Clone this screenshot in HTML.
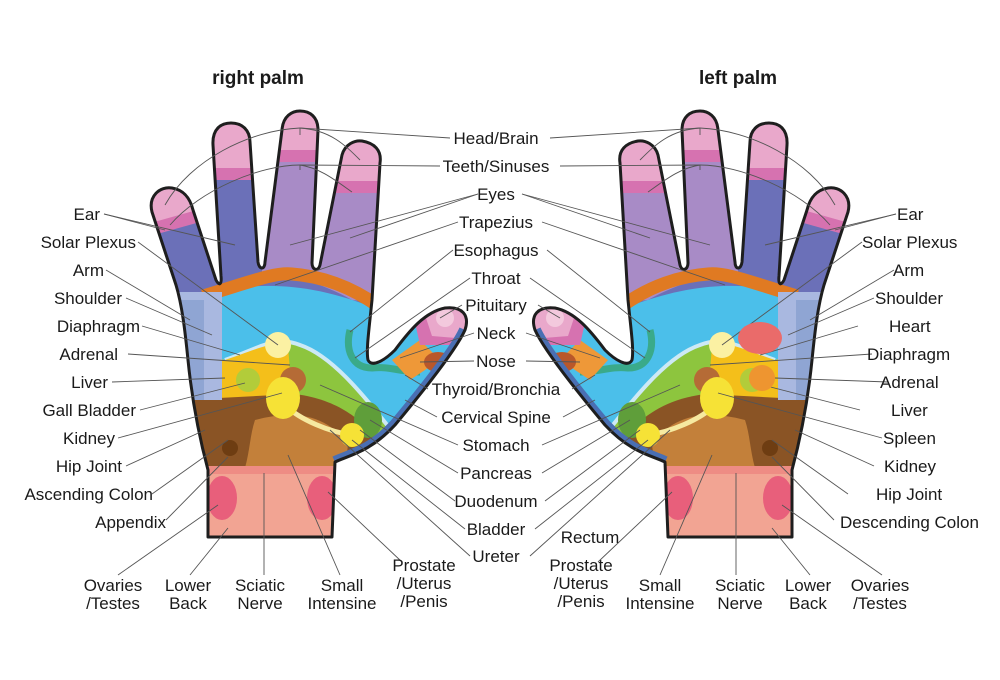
<!DOCTYPE html>
<html><head><meta charset="utf-8"><style>
html,body{margin:0;padding:0;background:#fff;}
svg{display:block;}
text{font-family:"Liberation Sans Narrow","Liberation Sans",sans-serif;font-size:17px;fill:#1a1a1a;}
.t{font-family:"Liberation Sans",sans-serif;font-weight:bold;font-size:19px;}
.l{stroke:#555;stroke-width:0.9;fill:none;}
</style></head><body>
<svg width="1000" height="680" viewBox="0 0 1000 680" xmlns="http://www.w3.org/2000/svg">
<defs>
<path id="outline" d="M208,537 L208,470 C200,440 192,400 188,360 C185,330 182,305 176,285 L152,212 C148,196 160,186 172,188 C184,190 190,198 193,210 L216,280 C219,286 222,285 221,276 L213,145 C212,128 222,123 231,123 C242,123 250,130 250,142 L258,262 C259,270 265,270 265,262 L282,130 C283,116 292,111 300,111 C310,111 318,117 318,130 L312,263 C312,270 318,272 320,265 L342,155 C345,144 355,140 362,141 C374,143 382,150 380,163 L372,300 C369,330 366,350 368,360 C372,368 385,360 395,350 C410,330 425,312 445,308 C462,306 470,315 465,330 C455,352 420,395 395,425 C370,452 350,455 335,462 L332,537 Z"/>
<clipPath id="hc"><use href="#outline"/></clipPath>
<g id="hand">
<g clip-path="url(#hc)">
<rect x="140" y="100" width="340" height="450" fill="#6b70b8"/>
<path d="M262,272 L268,100 L400,100 L400,305 L352,300 C320,282 290,275 262,272 Z" fill="#a88bc6"/>
<polygon points="140,180 210,180 200,222 150,236" fill="#d672b0"/>
<polygon points="140,180 210,180 197,210 147,224" fill="#e9a8cb"/>
<rect x="200" y="110" width="60" height="70" fill="#d672b0"/>
<rect x="200" y="110" width="60" height="58" fill="#e9a8cb"/>
<rect x="270" y="100" width="60" height="62" fill="#d672b0"/>
<rect x="270" y="100" width="60" height="50" fill="#e9a8cb"/>
<rect x="330" y="130" width="60" height="63" fill="#d672b0"/>
<rect x="330" y="130" width="60" height="51" fill="#e9a8cb"/>
<path d="M180,298 C250,282 300,278 380,310 L480,310 L480,540 L180,540 Z" fill="#4bbfea"/>
<path d="M203,296 C250,282 275,272 292,274 C320,276 350,286 378,306" stroke="#e07a22" stroke-width="13" fill="none"/>
<path d="M350,330 C345,350 352,368 372,368 C390,366 400,372 420,372" stroke="#3aaa8a" stroke-width="7" fill="none"/>
<path d="M392,360 L420,340 L440,360 L410,380 Z" fill="#ee9838"/>
<path d="M410,300 L480,300 L480,345 L420,345 Z" fill="#d672b0"/>
<path d="M420,300 L480,300 L480,340 L432,336 Z" fill="#e9a8cb"/>
<circle cx="445" cy="318" r="9" fill="#f3c9dd"/>
<ellipse cx="438" cy="362" rx="14" ry="10" fill="#b9572a"/>
<path d="M225,360 C260,348 275,335 300,345 C330,355 360,390 395,435 L480,435 L480,540 L180,540Z" fill="#8dc53e"/>
<path d="M225,360 C260,348 275,335 300,345 C330,355 360,390 395,435" stroke="#cde9f5" stroke-width="4" fill="none"/>
<path d="M188,352 L225,360 C255,350 275,340 288,345 L292,398 L188,405 Z" fill="#f4bf1a"/>
<path d="M180,400 L295,394 C340,400 360,420 380,440 L395,475 L180,475 Z" fill="#8a5425"/>
<path d="M255,420 C300,408 330,418 348,445 L345,468 L245,468 C250,450 250,435 255,420 Z" fill="#c3803a"/>
<ellipse cx="368" cy="420" rx="14" ry="18" fill="#5f9e3a"/>
<path d="M465,330 C455,352 420,395 395,425 C370,452 350,455 335,462" stroke="#4a6fb3" stroke-width="12" fill="none"/>
<rect x="176" y="292" width="46" height="108" fill="#a9b8e0"/>
<rect x="176" y="300" width="28" height="100" fill="#8fa5d3"/>
<rect x="176" y="400" width="18" height="70" fill="#6b70b8"/>
<rect x="195" y="466" width="145" height="80" fill="#f2a493"/>
<rect x="195" y="466" width="145" height="8" fill="#ee8c84"/>
<ellipse cx="222" cy="498" rx="15" ry="22" fill="#e85f7b"/>
<ellipse cx="322" cy="498" rx="15" ry="22" fill="#e85f7b"/>
<circle cx="278" cy="345" r="13" fill="#fbf1a3"/>
<circle cx="248" cy="380" r="12" fill="#b2cc3a"/>
<circle cx="293" cy="380" r="13" fill="#b56b36"/>
<path d="M285,405 C300,420 330,432 352,435" stroke="#f6e9a0" stroke-width="5" fill="none"/>
<ellipse cx="283" cy="398" rx="17" ry="21" fill="#f6e236"/>
<circle cx="352" cy="435" r="12" fill="#f6e236"/>
<circle cx="230" cy="448" r="8" fill="#6e3d12"/>
</g>
<use href="#outline" fill="none" stroke="#1e1e1e" stroke-width="3" stroke-linejoin="round"/>
</g>
<g id="lines" class="l">
<polyline points="104,214 165,230"/><polyline points="104,214 235,245"/>
<polyline points="138,242 278,345"/>
<polyline points="106,270 190,320"/>
<polyline points="126,298 212,335"/>
<polyline points="142,326 240,355"/>
<polyline points="128,354 290,365"/>
<polyline points="112,382 225,378"/>
<polyline points="140,410 245,383"/>
<polyline points="118,438 282,393"/>
<polyline points="126,466 205,430"/>
<polyline points="152,494 228,440"/>
<polyline points="166,520 228,457"/>
<polyline points="118,575 218,505"/>
<polyline points="190,575 228,528"/>
<polyline points="264,575 264,473"/>
<polyline points="340,575 288,455"/>
<polyline points="402,562 328,492"/>
<polyline points="450,138 300,128 300,135"/>
<path d="M300,128 C250,130 190,160 165,205"/>
<polyline points="440,166 300,165 300,170"/>
<path d="M300,165 C260,165 200,190 170,225"/>
<path d="M300,128 C330,130 345,145 360,160"/>
<path d="M300,165 C320,168 335,180 352,192"/>
<polyline points="478,194 290,245"/><polyline points="478,194 350,238"/>
<polyline points="458,222 275,285"/>
<polyline points="453,250 350,332"/>
<polyline points="470,278 355,358"/>
<polyline points="462,305 440,318"/>
<polyline points="474,333 400,358"/>
<polyline points="474,361 420,362"/>
<polyline points="428,389 405,375"/>
<polyline points="437,417 405,400"/>
<polyline points="458,445 320,385"/>
<polyline points="458,473 370,420"/>
<polyline points="455,501 360,430"/>
<polyline points="465,529 352,440"/>
<polyline points="470,556 330,430"/>
</g>
</defs>
<use href="#hand"/>
<use href="#lines"/>
<g transform="translate(1000,0) scale(-1,1)">
<use href="#hand"/>
<use href="#lines"/>
</g>
<ellipse cx="760" cy="338" rx="22" ry="16" fill="#ea6b6a"/>
<circle cx="762" cy="378" r="13" fill="#ee9530"/>

<text class="t" x="258" y="84" text-anchor="middle">right palm</text>
<text class="t" x="738" y="84" text-anchor="middle">left palm</text>
<g text-anchor="middle">
<text x="496" y="144">Head/Brain</text>
<text x="496" y="172">Teeth/Sinuses</text>
<text x="496" y="200">Eyes</text>
<text x="496" y="228">Trapezius</text>
<text x="496" y="256">Esophagus</text>
<text x="496" y="284">Throat</text>
<text x="496" y="311">Pituitary</text>
<text x="496" y="339">Neck</text>
<text x="496" y="367">Nose</text>
<text x="496" y="395">Thyroid/Bronchia</text>
<text x="496" y="423">Cervical Spine</text>
<text x="496" y="451">Stomach</text>
<text x="496" y="479">Pancreas</text>
<text x="496" y="507">Duodenum</text>
<text x="496" y="535">Bladder</text>
<text x="496" y="562">Ureter</text>
<text x="113" y="591">Ovaries</text><text x="113" y="609">/Testes</text>
<text x="188" y="591">Lower</text><text x="188" y="609">Back</text>
<text x="260" y="591">Sciatic</text><text x="260" y="609">Nerve</text>
<text x="342" y="591">Small</text><text x="342" y="609">Intensine</text>
<text x="424" y="571">Prostate</text><text x="424" y="589">/Uterus</text><text x="424" y="607">/Penis</text>
<text x="590" y="543">Rectum</text>
<text x="581" y="571">Prostate</text><text x="581" y="589">/Uterus</text><text x="581" y="607">/Penis</text>
<text x="660" y="591">Small</text><text x="660" y="609">Intensine</text>
<text x="740" y="591">Sciatic</text><text x="740" y="609">Nerve</text>
<text x="808" y="591">Lower</text><text x="808" y="609">Back</text>
<text x="880" y="591">Ovaries</text><text x="880" y="609">/Testes</text>
</g>
<g text-anchor="end">
<text x="100" y="220">Ear</text>
<text x="136" y="248">Solar Plexus</text>
<text x="104" y="276">Arm</text>
<text x="122" y="304">Shoulder</text>
<text x="140" y="332">Diaphragm</text>
<text x="118" y="360">Adrenal</text>
<text x="108" y="388">Liver</text>
<text x="136" y="416">Gall Bladder</text>
<text x="115" y="444">Kidney</text>
<text x="122" y="472">Hip Joint</text>
<text x="153" y="500">Ascending Colon</text>
<text x="166" y="528">Appendix</text>
</g>
<g>
<text x="897" y="220">Ear</text>
<text x="862" y="248">Solar Plexus</text>
<text x="893" y="276">Arm</text>
<text x="875" y="304">Shoulder</text>
<text x="889" y="332">Heart</text>
<text x="867" y="360">Diaphragm</text>
<text x="880" y="388">Adrenal</text>
<text x="891" y="416">Liver</text>
<text x="883" y="444">Spleen</text>
<text x="884" y="472">Kidney</text>
<text x="876" y="500">Hip Joint</text>
<text x="840" y="528">Descending Colon</text>
</g>
</svg>
</body></html>
